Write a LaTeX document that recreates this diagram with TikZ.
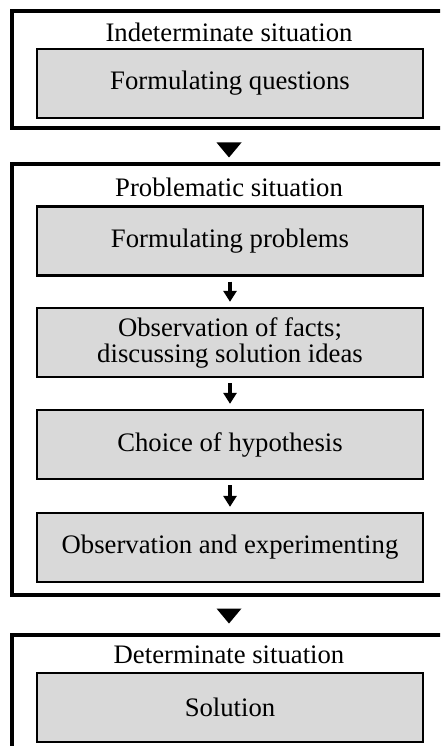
\documentclass[tikz,border=0pt]{standalone}
\usepackage{fontspec}
\setmainfont{Liberation Serif}
\usetikzlibrary{arrows.meta,positioning}

\tikzset{
  stage/.style={draw, line width=4pt, minimum width=434pt, inner sep=0pt},
  stepbox/.style={draw, line width=2.3pt, fill=black!15, minimum width=386pt,
    minimum height=69pt, inner sep=0pt, align=center},
  title/.style={inner sep=0pt},
  flow/.style={line width=4pt, -{Triangle[width=13pt,length=11pt]},
    shorten <=5pt, shorten >=5pt},
}

\begin{document}
\begin{tikzpicture}[x=1pt, y=-1pt, font=\fontsize{26.7}{26}\selectfont]
  \useasboundingbox (0,0) rectangle (440,746);
  \clip (0,0) rectangle (440,746);

  % outer frames
  \node[stage, minimum height=117pt] (indet) at (229,70) {};
  \node[stage, minimum height=430pt] (probl) at (229,379.5) {};
  \node[stage, minimum height=130pt] (determ) at (229,700) {};

  % titles
  \node[title] (tindet) at (229,32) {Indeterminate situation};
  \node[title] (tprobl) at (229,187) {Problematic situation};
  \node[title] (tdeterm) at (229,655) {Determinate situation};

  % steps
  \node[stepbox] (questions) at (230,83.5) {Formulating questions};
  \node[stepbox] (problems) at (230,241) {Formulating problems};
  \node[stepbox] (facts) at (230,342.5) {Observation of facts;\\discussing solution ideas};
  \node[stepbox] (hypo) at (230,444.5) {Choice of hypothesis};
  \node[stepbox] (experim) at (230,547.5) {Observation and experimenting};
  \node[stepbox] (solution) at (230,707.5) {Solution};

  \draw[flow] (problems) -- (facts);
  \draw[flow] (facts) -- (hypo);
  \draw[flow] (hypo) -- (experim);

  % big triangles between the frames
  \fill ([yshift=-12pt]indet.south) ++(-12.5,0) -- ++(25,0) -- ++(-12.5,15) -- cycle;
  \fill ([yshift=-12pt]probl.south) ++(-12.5,0) -- ++(25,0) -- ++(-12.5,15) -- cycle;
\end{tikzpicture}
\end{document}
